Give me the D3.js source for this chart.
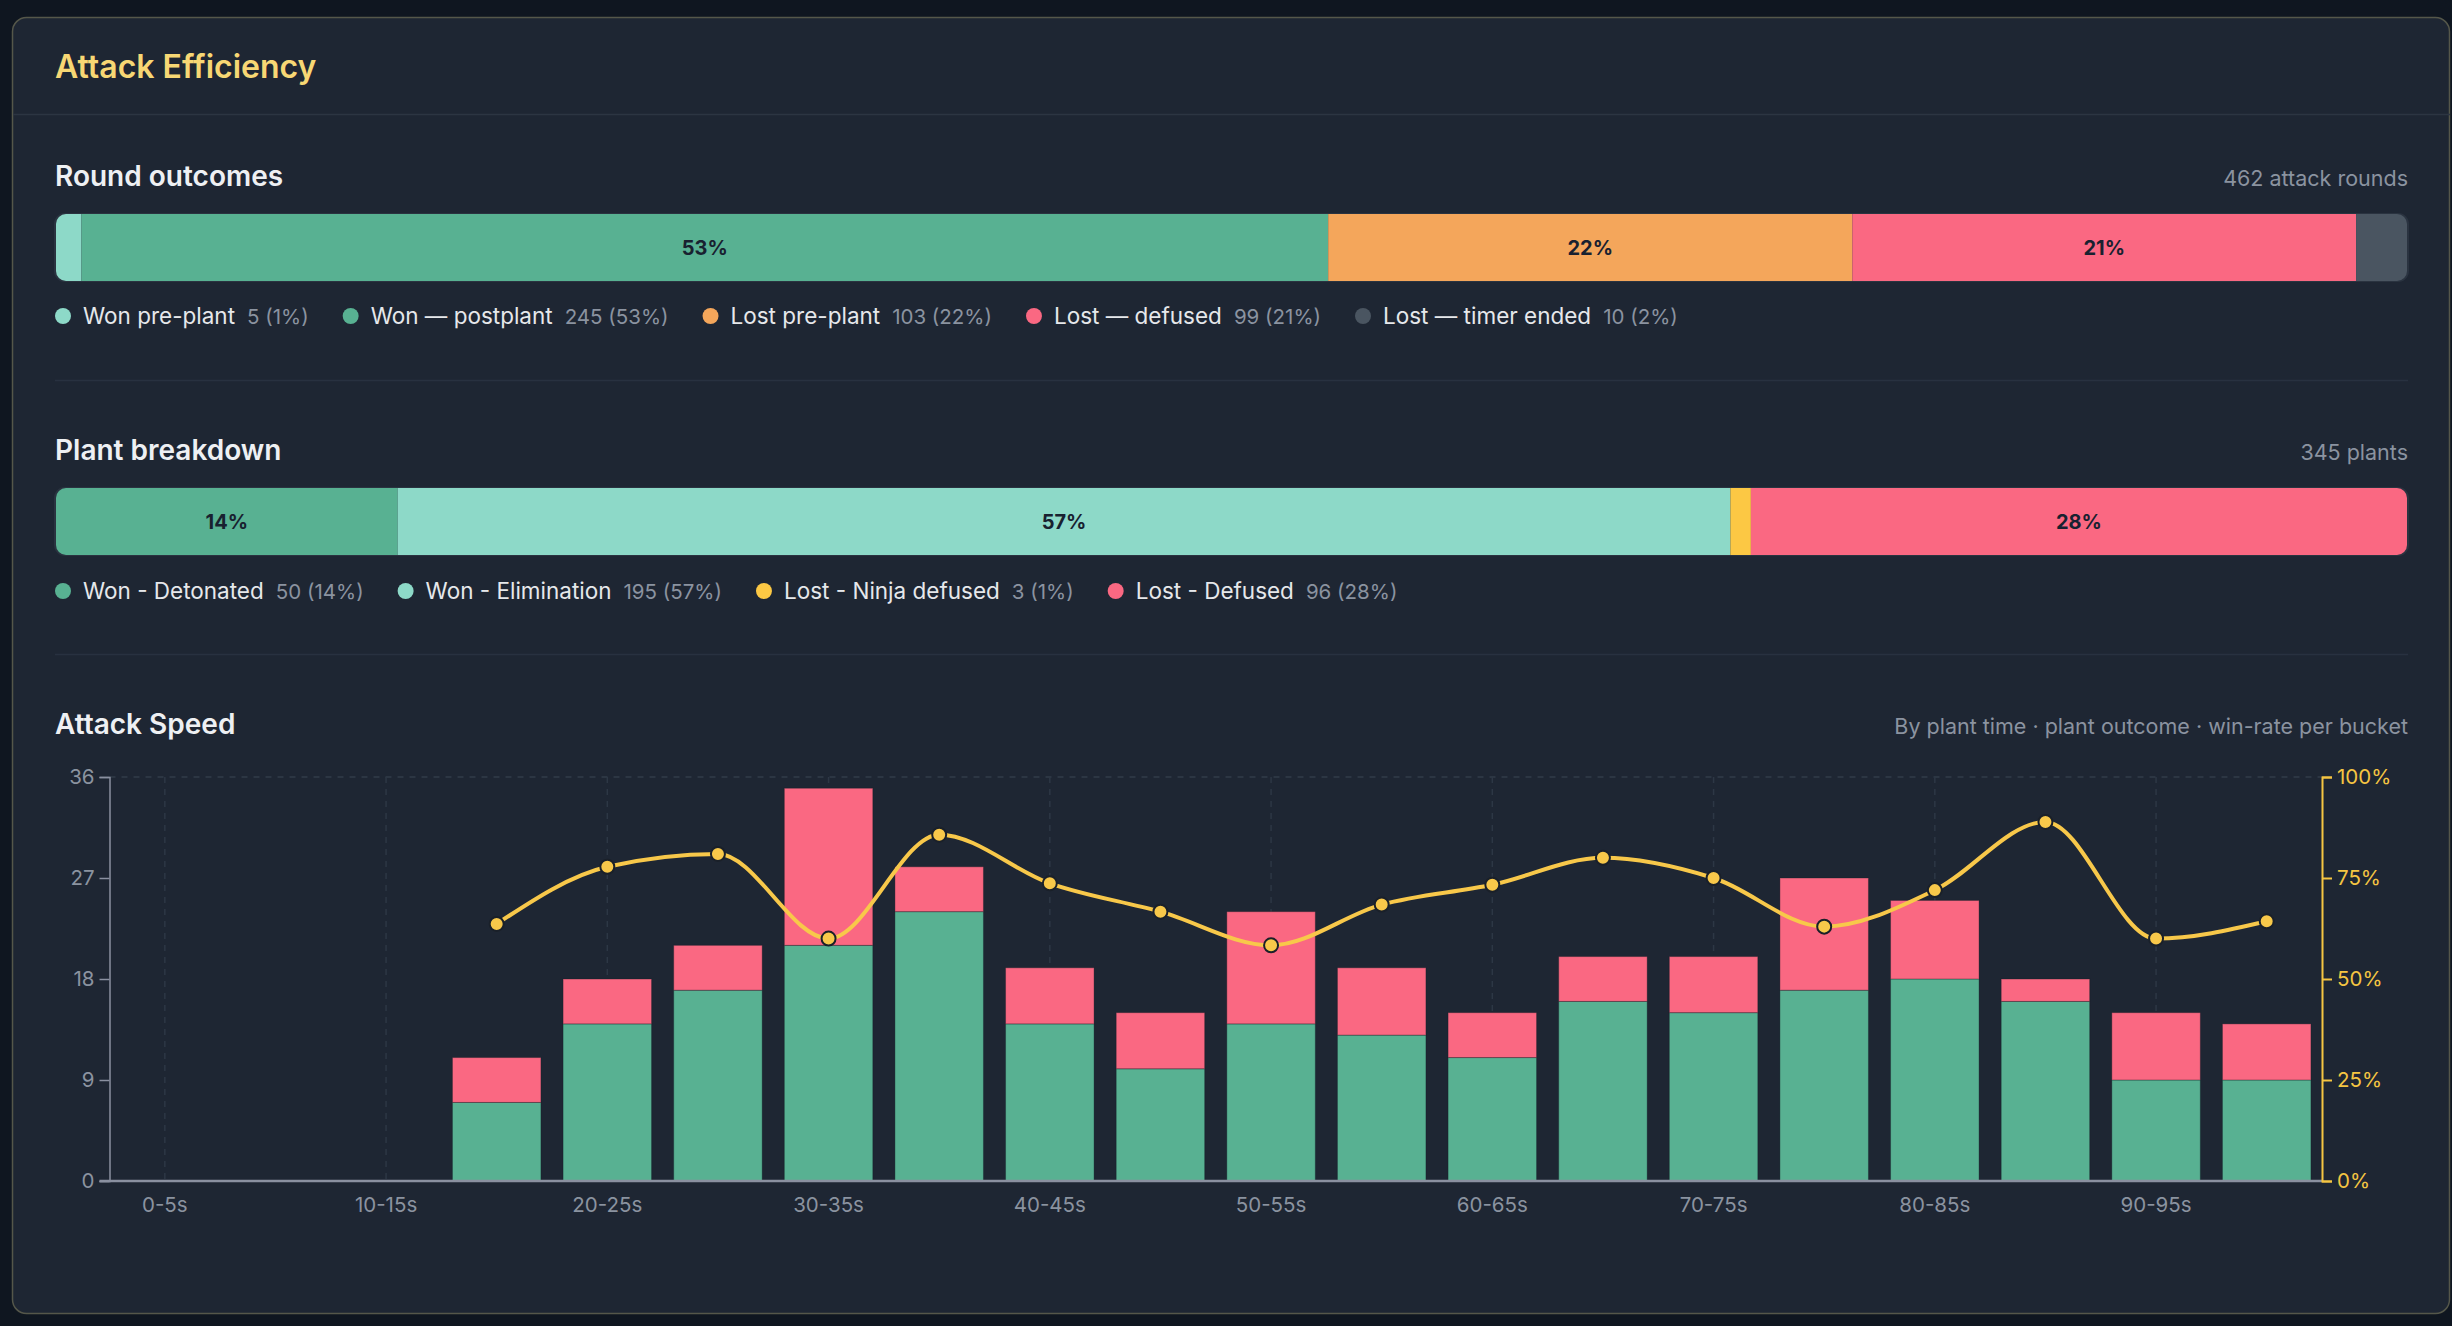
<!DOCTYPE html>
<html>
<head>
<meta charset="utf-8">
<script src="https://cdn.jsdelivr.net/npm/d3@7/dist/d3.min.js"></script>
<style>
  html, body { margin: 0; padding: 0; background: #0f1620; }
  svg { display: block; font-family: Inter, "Noto Sans", sans-serif; }
</style>
</head>
<body>
<svg id="chart" width="2452" height="1326"></svg>
<script>
// Attack efficiency card: two stacked share bars + attack speed combo chart

var outcomeLabels = ["Won pre-plant", "Won \u2014 postplant", "Lost pre-plant", "Lost \u2014 defused", "Lost \u2014 timer ended"];
var outcomeCounts = [5, 245, 103, 99, 10];
var outcomeColors = ["#8dd9c8", "#58b192", "#f4a65b", "#fa6882", "#4a5561"];
var outcomeTotal = 462;

var plantLabels = ["Won - Detonated", "Won - Elimination", "Lost - Ninja defused", "Lost - Defused"];
var plantCounts = [50, 195, 3, 96];
var plantColors = ["#58b192", "#8dd9c8", "#fcc844", "#fa6882"];
var plantTotal = 345;

var buckets = ["0-5s", "5-10s", "10-15s", "15-20s", "20-25s", "25-30s", "30-35s", "35-40s", "40-45s", "45-50s",
  "50-55s", "55-60s", "60-65s", "65-70s", "70-75s", "75-80s", "80-85s", "85-90s", "90-95s", "95-100s"];
var wonPlants  = [0, 0, 0, 7, 14, 17, 21, 24, 14, 10, 14, 13, 11, 16, 15, 17, 18, 16, 9, 9];
var lostPlants = [0, 0, 0, 4, 4, 4, 14, 4, 5, 5, 10, 6, 4, 4, 5, 10, 7, 2, 6, 5];
var countTicks = [0, 9, 18, 27, 36];
var rateTicks = [0, 0.25, 0.5, 0.75, 1];

var svg = d3.select("#chart");
var left = 55, right = 2408;

// card
svg.append("rect")
  .attr("x", 12.5).attr("y", 17.5)
  .attr("width", 2437).attr("height", 1296)
  .attr("rx", 14)
  .attr("fill", "#1e2633")
  .attr("stroke", "#55574a")
  .attr("stroke-width", 1.5);

svg.append("text")
  .attr("x", left).attr("y", 78)
  .attr("fill", "#f7d774")
  .attr("font-size", 32).attr("font-weight", 600)
  .text("Attack Efficiency");

svg.append("line")
  .attr("x1", 13).attr("x2", 2450)
  .attr("y1", 114.5).attr("y2", 114.5)
  .attr("stroke", "#2c3542").attr("stroke-width", 1.5);

function sectionHead(y, title, note) {
  svg.append("text")
    .attr("x", left).attr("y", y)
    .attr("fill", "#eef0f3")
    .attr("font-size", 28).attr("font-weight", 600)
    .text(title);
  svg.append("text")
    .attr("x", right).attr("y", y)
    .attr("text-anchor", "end")
    .attr("fill", "#8b93a0")
    .attr("font-size", 21.5)
    .text(note);
}

function shareBar(id, y0, h, counts, colors, total) {
  var sum = d3.sum(counts);
  var x = d3.scaleLinear().domain([0, sum]).range([left + 1, right - 1]);
  var starts = d3.cumsum([0].concat(counts));

  svg.append("rect")
    .attr("x", left - 1).attr("y", y0 - 1)
    .attr("width", right - left + 2).attr("height", h + 2)
    .attr("rx", 11)
    .attr("fill", "#2a3340");

  svg.append("clipPath").attr("id", id)
    .append("rect")
    .attr("x", left + 1).attr("y", y0)
    .attr("width", right - left - 2).attr("height", h)
    .attr("rx", 10);

  var g = svg.append("g").attr("clip-path", "url(#" + id + ")");
  g.selectAll("rect")
    .data(counts)
    .enter().append("rect")
    .attr("x", function(d, i){ return x(starts[i]); })
    .attr("y", y0)
    .attr("width", function(d){ return x(d) - x(0); })
    .attr("height", h)
    .attr("fill", function(d, i){ return colors[i]; });

  g.selectAll("text")
    .data(counts)
    .enter().append("text")
    .filter(function(d){ return d / total >= 0.05; })
    .attr("x", function(d){ var i = counts.indexOf(d); return x(starts[i] + d / 2); })
    .attr("y", y0 + h / 2 + 7)
    .attr("text-anchor", "middle")
    .attr("fill", "#182130")
    .attr("font-size", 20).attr("font-weight", 700)
    .text(function(d){ return Math.round(d / total * 100) + "%"; });
}

function legend(y, labels, counts, colors, total) {
  var cx = left;
  labels.forEach(function(lab, i) {
    var g = svg.append("g");
    g.append("circle")
      .attr("cx", cx + 8).attr("cy", y)
      .attr("r", 8)
      .attr("fill", colors[i]);
    var t1 = g.append("text")
      .attr("x", cx + 28).attr("y", y + 8)
      .attr("fill", "#e6e8eb")
      .attr("font-size", 22.5)
      .text(lab);
    var w1 = t1.node().getComputedTextLength();
    var t2 = g.append("text")
      .attr("x", cx + 28 + w1 + 12).attr("y", y + 8)
      .attr("fill", "#8b93a0")
      .attr("font-size", 20.5)
      .text(counts[i] + " (" + Math.round(counts[i] / total * 100) + "%)");
    cx = cx + 28 + w1 + 12 + t2.node().getComputedTextLength() + 34;
  });
}

function divider(y) {
  svg.append("line")
    .attr("x1", left).attr("x2", right)
    .attr("y1", y).attr("y2", y)
    .attr("stroke", "#283140").attr("stroke-width", 1.5);
}

// Round outcomes
sectionHead(186, "Round outcomes", outcomeTotal + " attack rounds");
shareBar("clip1", 214, 67, outcomeCounts, outcomeColors, outcomeTotal);
legend(316, outcomeLabels, outcomeCounts, outcomeColors, outcomeTotal);
divider(380.5);

// Plant breakdown
sectionHead(460, "Plant breakdown", plantTotal + " plants");
shareBar("clip2", 488, 67, plantCounts, plantColors, plantTotal);
legend(591, plantLabels, plantCounts, plantColors, plantTotal);
divider(654.5);

// Attack speed
sectionHead(734, "Attack Speed", "By plant time \u00b7 plant outcome \u00b7 win-rate per bucket");

var plotL = 109.5, plotR = 2322, plotT = 777, plotB = 1181;

var x = d3.scaleBand()
  .domain(buckets)
  .range([plotL, plotR])
  .paddingInner(0.2)
  .paddingOuter(0.1);

var y = d3.scaleLinear().domain([0, 36]).range([plotB, plotT]);
var yRate = d3.scaleLinear().domain([0, 1]).range([plotB, plotT]);

var shown = buckets.filter(function(d, i){ return i % 2 === 0; });

// grid
svg.append("line")
  .attr("x1", plotL).attr("x2", plotR)
  .attr("y1", plotT).attr("y2", plotT)
  .attr("stroke", "#323c4a").attr("stroke-width", 1.5)
  .attr("stroke-dasharray", "6,6");
svg.selectAll(".vgrid")
  .data(shown)
  .enter().append("line")
  .attr("class", "vgrid")
  .attr("x1", function(d){ return x(d) + x.bandwidth() / 2; })
  .attr("x2", function(d){ return x(d) + x.bandwidth() / 2; })
  .attr("y1", plotT).attr("y2", plotB)
  .attr("stroke", "#2d3745").attr("stroke-width", 1.5)
  .attr("stroke-dasharray", "6,6");

// stacked bars
var rows = buckets.map(function(b, i){ return { bucket: b, won: wonPlants[i], lost: lostPlants[i] }; });

svg.selectAll(".won")
  .data(rows)
  .enter().append("rect")
  .attr("class", "won")
  .attr("x", function(d){ return x(d.bucket); })
  .attr("y", function(d){ return y(d.won); })
  .attr("width", x.bandwidth())
  .attr("height", function(d){ return y(0) - y(d.won); })
  .attr("fill", "#58b192")
  .attr("stroke", "rgba(20,28,38,0.35)").attr("stroke-width", 1);

svg.selectAll(".lost")
  .data(rows)
  .enter().append("rect")
  .attr("class", "lost")
  .attr("x", function(d){ return x(d.bucket); })
  .attr("y", function(d){ return y(d.won + d.lost); })
  .attr("width", x.bandwidth())
  .attr("height", function(d){ return y(d.won) - y(d.won + d.lost); })
  .attr("fill", "#fa6882")
  .attr("stroke", "rgba(20,28,38,0.35)").attr("stroke-width", 1);

// axes
var xAxis = d3.axisBottom(x).tickValues(shown).tickSize(0).tickPadding(16);
var gx = svg.append("g")
  .attr("transform", "translate(0," + plotB + ")")
  .call(xAxis);
gx.select(".domain").attr("stroke", "#8a90a0").attr("stroke-width", 2.5)
  .attr("d", "M" + (plotL - 10) + ",0H" + plotR);
gx.selectAll(".tick text").attr("fill", "#8b93a0").attr("font-size", 20.5).attr("font-family", "Inter, sans-serif");

var yAxis = d3.axisLeft(y).tickValues(countTicks).tickSize(10).tickPadding(5);
var gy = svg.append("g")
  .attr("transform", "translate(" + plotL + ",0)")
  .call(yAxis);
gy.select(".domain").attr("stroke", "#8a90a0").attr("stroke-width", 1.5);
gy.selectAll(".tick line").attr("stroke", "#8a90a0").attr("stroke-width", 1.5);
gy.selectAll(".tick text").attr("fill", "#8b93a0").attr("font-size", 20.5).attr("font-family", "Inter, sans-serif");

var yAxisR = d3.axisRight(yRate).tickValues(rateTicks).tickSize(10).tickPadding(5)
  .tickFormat(function(d){ return Math.round(d * 100) + "%"; });
var gr = svg.append("g")
  .attr("transform", "translate(" + plotR + ",0)")
  .call(yAxisR);
gr.select(".domain").attr("stroke", "#f5c542").attr("stroke-width", 2);
gr.selectAll(".tick line").attr("stroke", "#f5c542").attr("stroke-width", 2);
gr.selectAll(".tick text").attr("fill", "#f5c542").attr("font-size", 20.5).attr("font-family", "Inter, sans-serif");

// win-rate line
var rates = rows.filter(function(d){ return d.won + d.lost > 0; })
  .map(function(d){ return { bucket: d.bucket, rate: d.won / (d.won + d.lost) }; });

var line = d3.line()
  .x(function(d){ return x(d.bucket) + x.bandwidth() / 2; })
  .y(function(d){ return yRate(d.rate); })
  .curve(d3.curveMonotoneX);

svg.append("path")
  .datum(rates)
  .attr("d", line)
  .attr("fill", "none")
  .attr("stroke", "#f8c84a")
  .attr("stroke-width", 4);

svg.selectAll(".dot")
  .data(rates)
  .enter().append("circle")
  .attr("class", "dot")
  .attr("cx", function(d){ return x(d.bucket) + x.bandwidth() / 2; })
  .attr("cy", function(d){ return yRate(d.rate); })
  .attr("r", 7)
  .attr("fill", "#f8c84a")
  .attr("stroke", "#1a2029")
  .attr("stroke-width", 2);
</script>
</body>
</html>
